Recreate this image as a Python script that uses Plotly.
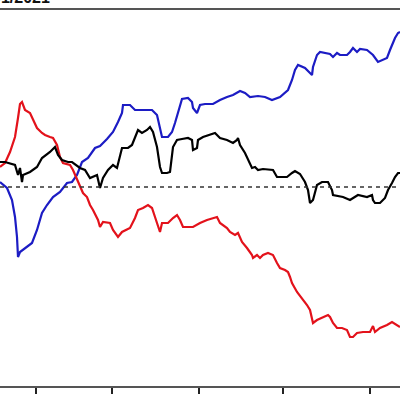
import plotly.graph_objects as go

# Day index (trading-day axis) shared by the traced series
black_x = [0, 5, 15, 18, 20, 22, 23, 30, 37, 42, 50, 55, 58, 62, 68, 72, 80, 85, 90, 97,
           100, 103, 108, 113, 117, 122, 128, 132, 138, 142, 147, 150, 153, 157, 160, 162, 167, 170, 173, 177,
           182, 188, 192, 193, 197, 198, 203, 210, 215, 220, 227, 233, 237, 238, 240, 245, 250, 252, 255, 258,
           263, 273, 277, 287, 292, 295, 300, 305, 308, 310, 313, 317, 322, 328, 332, 333, 343, 350, 358, 367,
           372, 373, 375, 380, 385, 388, 392, 395, 398, 400]
black_v = [2.5, 2.5, 2.2, 1.2, 1.9, 0.5, 1.2, 1.5, 2.0, 2.9, 3.5, 4.0, 3.2, 2.7, 2.5, 2.5, 1.9, 1.7, 0.9, 1.2,
           -0.1, 0.9, 1.7, 2.2, 1.9, 3.9, 3.9, 4.2, 5.7, 5.4, 5.7, 6.0, 5.5, 4.0, 2.0, 1.4, 1.4, 1.5, 4.0, 4.7,
           4.8, 4.9, 4.7, 3.7, 3.9, 4.7, 5.0, 5.2, 5.4, 4.9, 4.7, 4.4, 4.7, 4.9, 4.2, 3.4, 2.4, 1.9, 2.0, 1.7,
           1.8, 1.7, 1.0, 1.0, 1.4, 1.6, 1.3, 0.5, -0.3, -1.6, -1.3, 0.2, 0.5, 0.5, -0.3, -0.8, -1.0, -1.3, -0.8, -1.0,
           -0.8, -1.3, -1.6, -1.6, -1.1, -0.3, 0.4, 1.0, 1.4, 1.4]

blue_x = [0, 7, 12, 15, 17, 18, 20, 25, 32, 37, 42, 47, 53, 60, 67, 72, 77, 82, 88, 95,
          100, 107, 113, 118, 122, 123, 130, 135, 142, 152, 157, 160, 162, 168, 172, 175, 180, 182, 188, 192,
          193, 197, 200, 205, 213, 220, 227, 233, 240, 245, 250, 258, 265, 272, 280, 288, 292, 295, 298, 305,
          310, 312, 313, 317, 320, 327, 330, 333, 337, 340, 347, 350, 353, 357, 360, 367, 373, 378, 383, 387,
          390, 395, 398, 400]
blue_v = [0.5, -0.1, -1.3, -3.0, -5.0, -7.0, -6.5, -6.1, -5.6, -4.3, -2.6, -1.8, -1.0, -0.5, 0.4, 0.5, 1.2, 2.5, 2.9, 3.9,
          4.1, 4.8, 5.5, 6.5, 7.4, 8.2, 8.2, 7.7, 7.7, 7.7, 7.2, 6.0, 5.0, 5.0, 5.5, 6.4, 8.2, 8.8, 8.9, 8.5,
          7.9, 7.4, 8.2, 8.3, 8.3, 8.7, 9.0, 9.2, 9.6, 9.4, 9.0, 9.1, 9.0, 8.7, 9.0, 9.7, 10.7, 11.7, 12.2, 11.9,
          11.4, 11.2, 12.0, 13.2, 13.5, 13.4, 13.3, 13.0, 13.4, 13.2, 13.2, 13.5, 13.9, 13.5, 13.8, 13.7, 13.2, 12.5, 12.7, 12.9,
          13.7, 14.9, 15.4, 15.5]

red_x = [0, 5, 10, 15, 18, 20, 22, 25, 30, 33, 37, 42, 45, 50, 53, 57, 60, 63, 70, 73,
         78, 83, 87, 90, 93, 98, 100, 103, 110, 113, 118, 122, 130, 135, 138, 143, 148, 152, 155, 158,
         160, 162, 168, 173, 177, 180, 183, 193, 200, 207, 213, 217, 220, 227, 230, 235, 238, 242, 247, 252,
         253, 257, 260, 263, 268, 273, 277, 280, 285, 288, 290, 292, 297, 302, 307, 310, 312, 313, 317, 322,
         328, 330, 333, 337, 342, 347, 350, 353, 357, 363, 370, 373, 375, 380, 387, 392, 397, 400]
red_v = [2.0, 2.4, 3.5, 5.0, 6.9, 8.3, 8.5, 7.7, 7.4, 6.7, 5.9, 5.4, 5.2, 5.0, 4.9, 4.2, 3.0, 2.4, 2.2, 1.7,
         0.5, -0.6, -1.0, -1.8, -2.3, -3.3, -4.0, -3.5, -3.6, -4.3, -5.0, -4.5, -4.1, -3.1, -2.3, -2.1, -1.8, -2.1, -3.0, -3.8,
         -4.5, -3.6, -3.6, -3.1, -2.8, -3.3, -4.0, -4.0, -3.6, -3.3, -3.1, -3.0, -3.6, -4.1, -4.5, -4.8, -4.6, -5.5, -6.1, -6.8,
         -7.1, -6.8, -7.1, -6.8, -6.6, -6.8, -7.6, -8.1, -8.3, -8.5, -9.0, -9.6, -10.5, -11.1, -11.8, -12.3, -13.1, -13.6, -13.3, -13.1,
         -12.8, -13.0, -13.6, -14.1, -14.1, -14.3, -15.0, -15.0, -14.6, -14.5, -14.5, -13.9, -14.5, -14.1, -13.8, -13.5, -13.8, -14.0]

tick_positions = [36, 112, 199, 283, 370]
title_text = "01/2021"

fig = go.Figure()
fig.add_trace(go.Scatter(x=blue_x, y=blue_v, mode="lines",
                         line=dict(color="#1c1cc4", width=2.2), showlegend=False))
fig.add_trace(go.Scatter(x=red_x, y=red_v, mode="lines",
                         line=dict(color="#e3121b", width=2.2), showlegend=False))
fig.add_trace(go.Scatter(x=black_x, y=black_v, mode="lines",
                         line=dict(color="#000000", width=2.2), showlegend=False))

fig.add_hline(y=0, line=dict(color="#333333", width=1.3, dash="4px,4px"))

fig.add_annotation(text="<b>" + title_text + "</b>", xref="paper", yref="paper",
                   x=0.13, y=1.0053, xanchor="right", yanchor="bottom", showarrow=False,
                   font=dict(family="Liberation Sans, Arial", size=16, color="#111"))

fig.update_layout(
    width=400, height=394,
    margin=dict(l=0, r=0, t=10, b=8),
    paper_bgcolor="white", plot_bgcolor="white",
    xaxis=dict(range=[0, 400], showgrid=False, zeroline=False,
               showline=True, linecolor="#555555", linewidth=2, mirror=True,
               ticks="outside", ticklen=8, tickwidth=1.5, tickcolor="#222222",
               tickvals=tick_positions, showticklabels=False),
    yaxis=dict(range=[-19.9, 17.7], showgrid=False, zeroline=False,
               showline=False, showticklabels=False, ticks=""),
)

fig.write_html("out.html", config={"displayModeBar": False},
               post_script="document.body.style.margin='0';document.body.style.overflow='hidden';")
